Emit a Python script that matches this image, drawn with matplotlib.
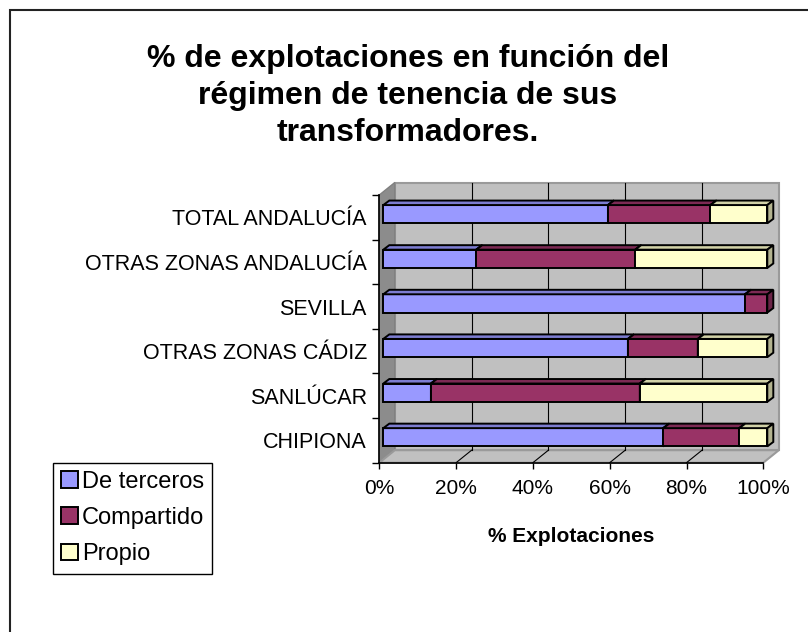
import numpy as np
import matplotlib
matplotlib.use('Agg')
import matplotlib.pyplot as plt
from matplotlib.patches import Polygon, Rectangle
from matplotlib.colors import to_rgb

plt.rcParams['font.family'] = ['Liberation Sans', 'DejaVu Sans']

categorias = ['CHIPIONA', 'SANLÚCAR', 'OTRAS ZONAS CÁDIZ', 'SEVILLA',
              'OTRAS ZONAS ANDALUCÍA', 'TOTAL ANDALUCÍA']
de_terceros = [72.9, 12.4, 63.7, 94.2, 24.2, 58.5]
compartido = [19.8, 54.4, 18.2, 5.8, 41.4, 26.7]
propio = [7.3, 33.2, 18.1, 0.0, 34.4, 14.8]

series = ['De terceros', 'Compartido', 'Propio']
colores = ['#9999ff', '#993366', '#ffffcc']
x_ticks = [0, 20, 40, 60, 80, 100]
x_labels = ['0%', '20%', '40%', '60%', '80%', '100%']

W, H = 808, 632
fig = plt.figure(figsize=(W / 100, H / 100), dpi=100)

# outer chart border (only left and top visible)
fig.patches.append(Rectangle((10 / W, -0.1), 1.2, 1.1 - 10 / H, fill=False,
                             ec='#222222', lw=1.5, transform=fig.transFigure))

ax = fig.add_axes([379.3 / W, 1 - 462.7 / H, 384 / W, 267.7 / H])
ax.set_xlim(0, 100)
ax.set_ylim(-0.5, 5.5)
ax.patch.set_visible(False)

px = 100 / 384
py = 6 / 267.7
dx, dy = 15.5 * px, 12.5 * py     # wall depth
bx0, by0 = 4 * px, 3.1 * py       # bar front offset
bx1, by1 = 6 * px, 4.5 * py       # bar depth
y0, y1 = -0.5, 5.5

# walls
ax.add_patch(Polygon([(dx, y0 + dy), (100 + dx, y0 + dy), (100 + dx, y1 + dy), (dx, y1 + dy)],
                     fc='#c0c0c0', ec='#9a9a9a', lw=1.5, clip_on=False, zorder=0))
ax.add_patch(Polygon([(0, y0), (dx, y0 + dy), (dx, y1 + dy), (0, y1)],
                     fc='#8c8c8c', ec='#808080', lw=1, clip_on=False, zorder=0))
ax.add_patch(Polygon([(0, y0), (100, y0), (100 + dx, y0 + dy), (dx, y0 + dy)],
                     fc='#c0c0c0', ec='#9a9a9a', lw=1.5, clip_on=False, zorder=0))
for t in x_ticks[1:-1]:
    ax.plot([t + dx, t + dx], [y0 + dy, y1 + dy], color='black', lw=0.8, zorder=1, clip_on=False)
    ax.plot([t, t + dx], [y0, y0 + dy], color='black', lw=0.8, zorder=1, clip_on=False)

# 3D stacked bars
y = np.arange(len(categorias))
bh = 0.41
lefts = np.zeros(len(categorias))
handles = []
for vals, col, name in zip([de_terceros, compartido, propio], colores, series):
    vals = np.array(vals)
    rgb = np.array(to_rgb(col))
    top_c = rgb * 0.82
    side_c = rgb * 0.7
    b = ax.barh(y + by0, vals, left=lefts + bx0, height=bh, color=col,
                edgecolor='black', lw=1.4, zorder=4, clip_on=False, label=name)
    handles.append(b)
    for yi, l, v in zip(y, lefts, vals):
        if v <= 0:
            continue
        xa = l + bx0
        xb = l + v + bx0
        yt = yi + by0 + bh / 2
        yb = yi + by0 - bh / 2
        ax.add_patch(Polygon([(xa, yt), (xb, yt), (xb + bx1, yt + by1), (xa + bx1, yt + by1)],
                             fc=top_c, ec='black', lw=1.4, zorder=4, clip_on=False))
        ax.add_patch(Polygon([(xb, yb), (xb + bx1, yb + by1), (xb + bx1, yt + by1), (xb, yt)],
                             fc=side_c, ec='black', lw=1.4, zorder=4, clip_on=False))
    lefts += vals

# axes
for s in ['top', 'right']:
    ax.spines[s].set_visible(False)
for s in ['left', 'bottom']:
    ax.spines[s].set_color('black')
    ax.spines[s].set_linewidth(1.2)
ax.set_xticks(x_ticks)
ax.set_xticklabels(x_labels, fontsize=15)
ax.tick_params(axis='x', length=4.5, width=1, pad=7)
ax.set_yticks(np.arange(-0.5, 6, 1))
ax.set_yticklabels([])
ax.set_yticks(y, minor=True)
ax.set_yticklabels(categorias, minor=True, fontsize=15.5)
ax.tick_params(axis='y', which='major', length=5, width=1)
ax.tick_params(axis='y', which='minor', length=0, pad=9)
ax.set_xlabel('% Explotaciones', fontsize=15, fontweight='bold', labelpad=21)

# title: baseline of the last line sits about 141 px from the top
fig.text(408 / W, 1 - 141 / H,
         '% de explotaciones en función del\nrégimen de tenencia de sus\ntransformadores.',
         ha='center', va='baseline', ma='center', fontsize=23, fontweight='bold',
         linespacing=1.31)

leg = fig.legend(handles=handles, labels=series, loc='upper left',
                 bbox_to_anchor=(53 / W, 1 - 462.7 / H), fontsize=17, frameon=True,
                 fancybox=False, edgecolor='black', framealpha=1, handlelength=0.72,
                 handleheight=0.72, handletextpad=0.15, labelspacing=0.6, borderpad=0.35,
                 borderaxespad=0)
leg.get_frame().set_linewidth(1)

fig.savefig('out.png', dpi=100)
